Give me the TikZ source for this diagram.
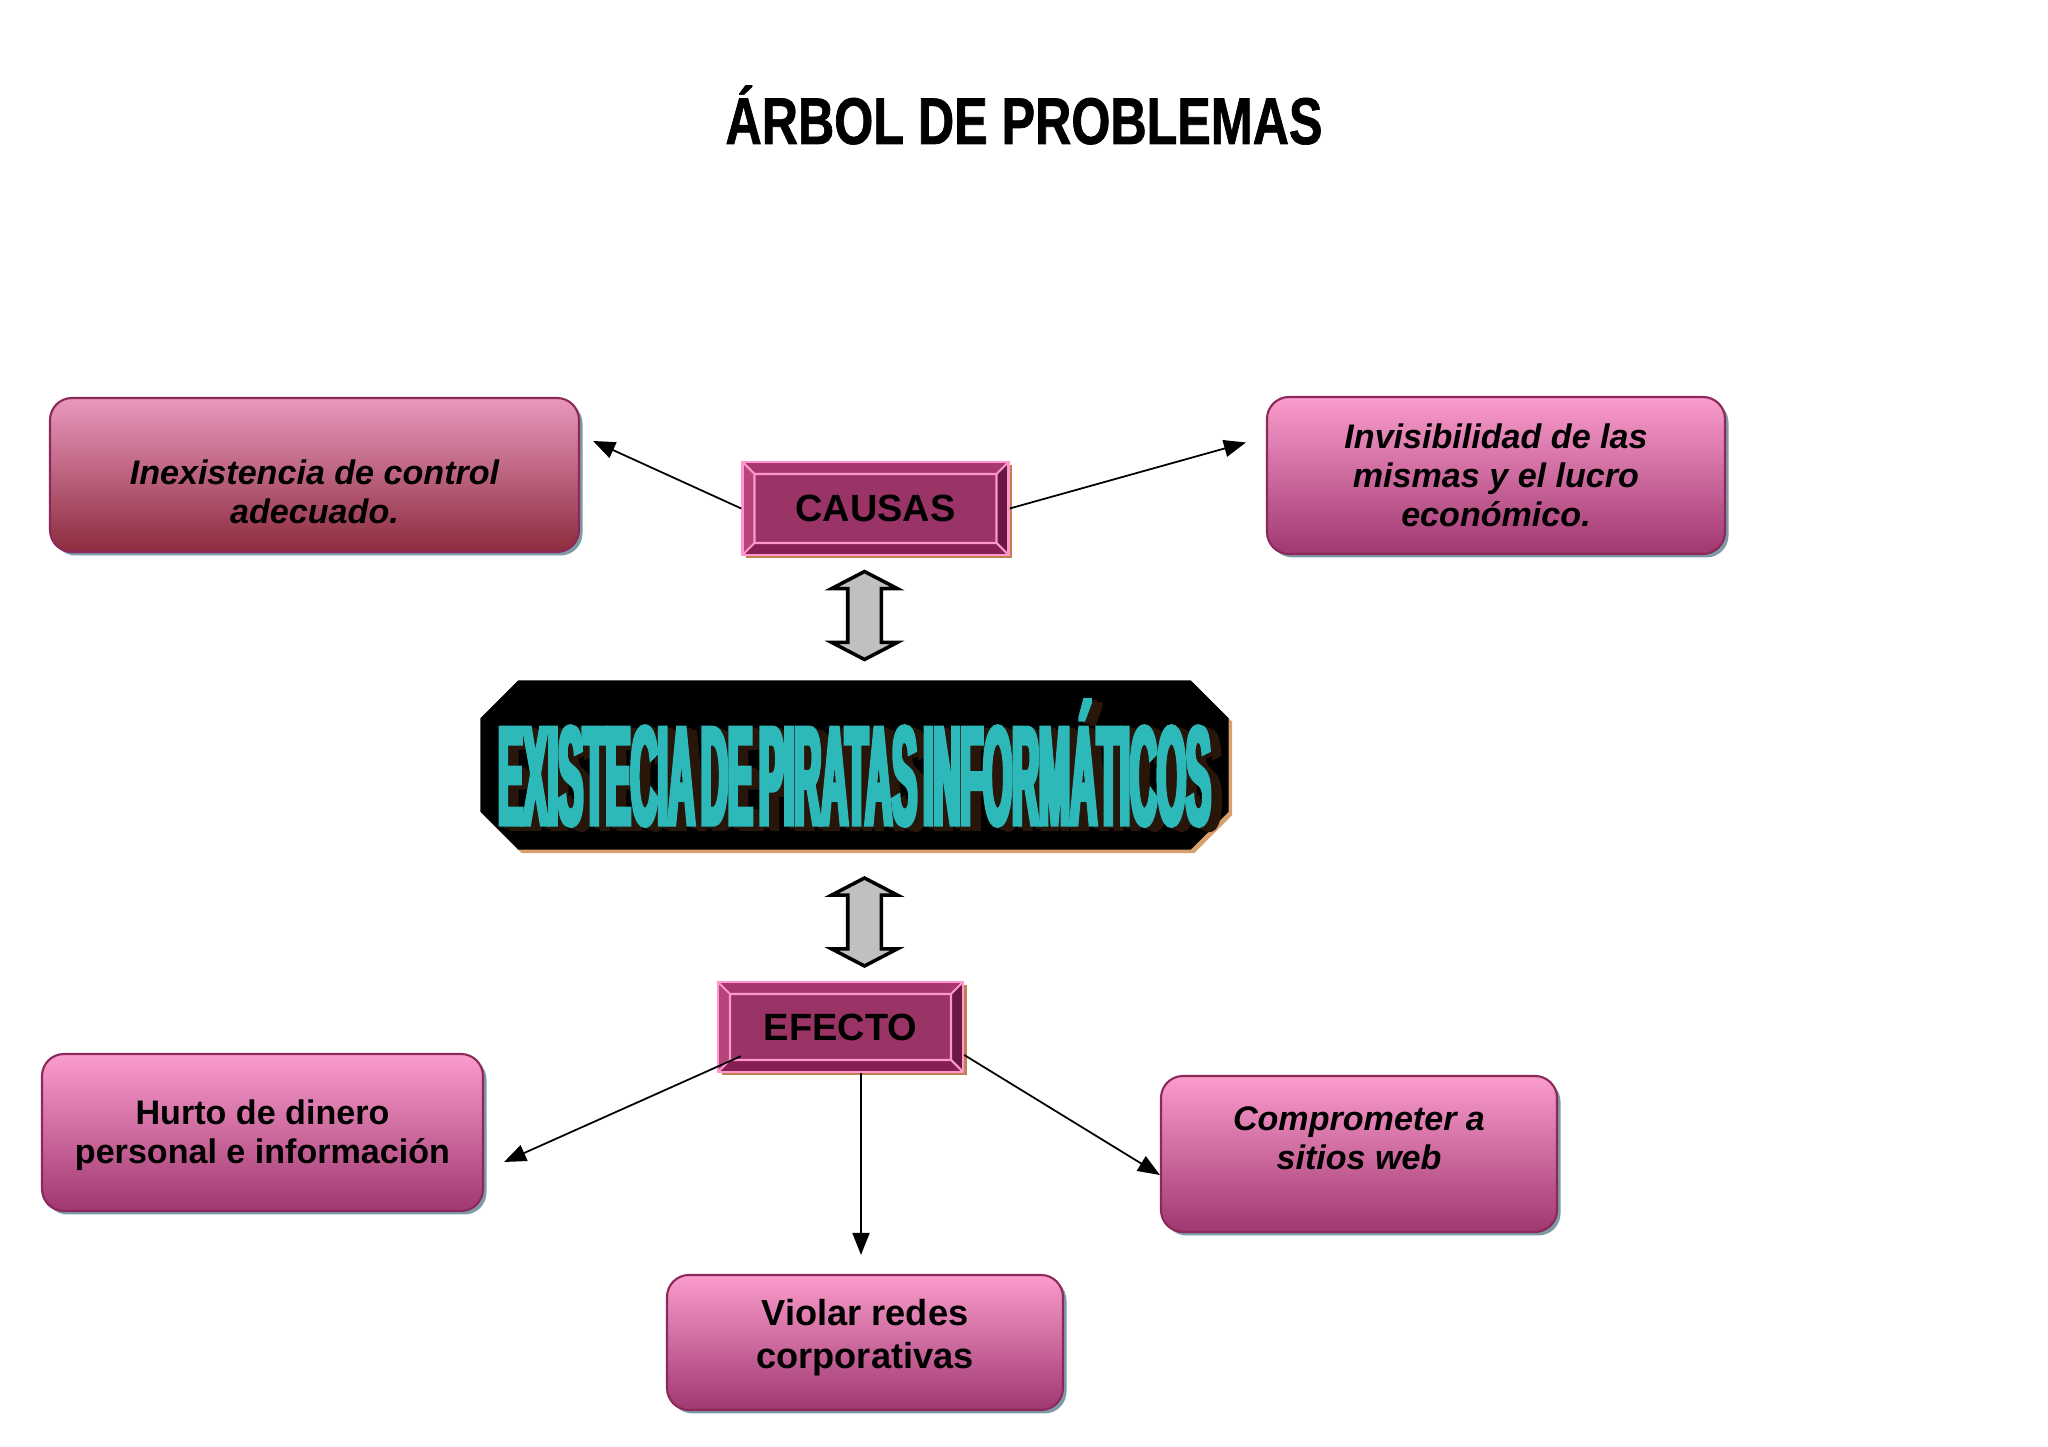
\documentclass[tikz,border=0pt]{standalone}
\usepackage{fontspec}
\setmainfont{Liberation Sans}
\newfontfamily\titlefont[FakeStretch=0.76,FakeBold=1]{Liberation Sans}
\newfontfamily\wordartfont[FakeStretch=0.265,FakeBold=3,WordSpace=0.6]{Liberation Sans}
\usepackage{tikz}
\usetikzlibrary{shapes.arrows, arrows.meta, positioning, calc, shadows}

\definecolor{boxtop}{RGB}{250,156,204}
\definecolor{boxbot}{RGB}{160,56,112}
\definecolor{redtop}{RGB}{234,152,190}
\definecolor{redbot}{RGB}{140,44,62}
\definecolor{boxline}{RGB}{140,40,90}
\definecolor{boxshadow}{RGB}{125,155,165}
\definecolor{bevelmid}{RGB}{154,51,102}
\definecolor{beveltop}{RGB}{166,56,110}
\definecolor{bevelleft}{RGB}{184,68,126}
\definecolor{bevelbottom}{RGB}{134,31,82}
\definecolor{bevelright}{RGB}{106,26,66}
\definecolor{bevelline}{RGB}{255,150,205}
\definecolor{bevelshadow}{RGB}{192,128,80}
\definecolor{octshadow}{RGB}{215,160,110}
\definecolor{tealtext}{RGB}{45,185,185}
\definecolor{extrude}{RGB}{40,22,10}
\definecolor{arrowgray}{RGB}{192,192,192}

% teal letters with a dark extrusion behind them
\newcommand{\extruded}[1]{%
  \rlap{\color{extrude}\hspace{3pt}\raisebox{-1.2pt}{#1}}%
  \rlap{\color{extrude}\hspace{1.5pt}\raisebox{-0.6pt}{#1}}%
  {\color{tealtext}#1}}
% text block moved up or down inside its box
\newcommand{\movetext}[2]{\raisebox{#1}[\height][\depth]{\begin{tabular}{@{}c@{}}#2\end{tabular}}}

\begin{document}
\begin{tikzpicture}[
    causebox/.style={rectangle, rounded corners=0.22cm, draw=boxline, line width=0.6pt,
      top color=boxtop, bottom color=boxbot, align=center,
      font=\fontsize{9.7}{11.1}\selectfont\bfseries\itshape,
      drop shadow={shadow xshift=0.035cm, shadow yshift=-0.035cm, fill=boxshadow, opacity=1}},
    effectbox/.style={causebox, font=\fontsize{9.7}{11.1}\selectfont\bfseries},
    bevelbox/.style={rectangle, fill=bevelmid, draw=bevelline, line width=0.7pt,
      font=\fontsize{10.8}{12}\selectfont\bfseries,
      drop shadow={shadow xshift=0.035cm, shadow yshift=-0.035cm, fill=bevelshadow, opacity=1},
      path picture={
        \coordinate (pnw) at (path picture bounding box.north west);
        \coordinate (pne) at (path picture bounding box.north east);
        \coordinate (psw) at (path picture bounding box.south west);
        \coordinate (pse) at (path picture bounding box.south east);
        \fill[beveltop] (pnw) -- (pne) -- ($(pne)+(-0.12,-0.12)$) -- ($(pnw)+(0.12,-0.12)$) -- cycle;
        \fill[bevelleft] (pnw) -- (psw) -- ($(psw)+(0.12,0.12)$) -- ($(pnw)+(0.12,-0.12)$) -- cycle;
        \fill[bevelbottom] (psw) -- (pse) -- ($(pse)+(-0.12,0.12)$) -- ($(psw)+(0.12,0.12)$) -- cycle;
        \fill[bevelright] (pne) -- (pse) -- ($(pse)+(-0.12,0.12)$) -- ($(pne)+(-0.12,-0.12)$) -- cycle;
        \draw[bevelline, line width=0.6pt] ($(pnw)+(0.12,-0.12)$) rectangle ($(pse)+(-0.12,0.12)$)
          (pnw) -- ++(0.12,-0.12) (pne) -- ++(-0.12,-0.12)
          (psw) -- ++(0.12,0.12) (pse) -- ++(-0.12,0.12);
      }},
    updown/.style={double arrow, shape border rotate=90, draw, line width=1pt, fill=arrowgray,
      minimum height=0.88cm, inner sep=0.15cm, double arrow head extend=0.16cm,
      double arrow tip angle=125},
    wordart/.style={inner sep=0pt, font=\wordartfont\fontsize{40}{40}\selectfont\bfseries},
    arrow/.style={line width=0.5pt, -{Triangle[length=0.22cm,width=0.17cm]}}
]
\useasboundingbox[fill=white] (0,0) rectangle (20.48,-14.47);

% Title
\node[font=\titlefont\fontsize{18.8}{20}\selectfont\bfseries, anchor=base] (title) at (10.24,-1.44)
  {ÁRBOL DE PROBLEMAS};

% Causes
\node[bevelbox, minimum width=2.66cm, minimum height=0.93cm] (causas) at (8.755,-5.085) {CAUSAS};
\node[causebox, top color=redtop, bottom color=redbot, minimum width=5.29cm, minimum height=1.54cm]
  (inex) at (3.145,-4.75) {\movetext{-0.21cm}{Inexistencia de control\\adecuado.}};
\node[causebox, minimum width=4.58cm, minimum height=1.57cm] (invis) at (14.96,-4.755)
  {Invisibilidad de las\\mismas y el lucro\\económico.};

% Central problem: black octagon with the wordart title
\node[updown] (arrowup) at (8.645,-6.155) {};
\node[minimum width=7.47cm, minimum height=1.68cm, inner sep=0pt] (pirates) at (8.545,-7.65) {};
\fill[black, drop shadow={shadow xshift=0.035cm, shadow yshift=-0.035cm, fill=octshadow, opacity=1}]
  ($(pirates.north west)+(0.38,0)$) -- ($(pirates.north east)+(-0.38,0)$)
  -- ($(pirates.north east)+(0,-0.38)$) -- ($(pirates.south east)+(0,0.38)$)
  -- ($(pirates.south east)+(-0.38,0)$) -- ($(pirates.south west)+(0.38,0)$)
  -- ($(pirates.south west)+(0,0.38)$) -- ($(pirates.north west)+(0,-0.38)$) -- cycle;
\node[wordart] (piratestext) at (pirates) {\extruded{EXISTECIA DE PIRATAS INFORMÁTICOS}};
\node[updown] (arrowdown) at (8.645,-9.22) {};

% Effects
\node[bevelbox, minimum width=2.45cm, minimum height=0.9cm] (efecto) at (8.405,-10.27) {EFECTO};
\node[effectbox, minimum width=4.41cm, minimum height=1.57cm] (hurto) at (2.625,-11.325)
  {\movetext{-0.04cm}{Hurto de dinero\\personal e información}};
\node[causebox, minimum width=3.96cm, minimum height=1.56cm] (compro) at (13.59,-11.54)
  {\movetext{0.12cm}{Comprometer a\\sitios web}};
\node[effectbox, minimum width=3.96cm, minimum height=1.35cm, font=\fontsize{10.3}{12}\selectfont\bfseries]
  (violar) at (8.65,-13.425) {\movetext{0.04cm}{Violar redes\\corporativas}};

\draw[arrow] (causas.west) -- ([xshift=0.13cm,yshift=0.34cm]inex.east);
\draw[arrow] (causas.east) -- ([xshift=-0.2cm,yshift=0.33cm]invis.west);
\draw[arrow] ([xshift=0.24cm,yshift=0.17cm]efecto.south west) -- ([xshift=0.2cm,yshift=-0.295cm]hurto.east);
\draw[arrow] ([xshift=0.205cm]efecto.south) -- ([xshift=-0.04cm,yshift=0.19cm]violar.north);
\draw[arrow] ([yshift=-0.28cm]efecto.east) -- ([yshift=-0.21cm]compro.west);
\end{tikzpicture}
\end{document}
